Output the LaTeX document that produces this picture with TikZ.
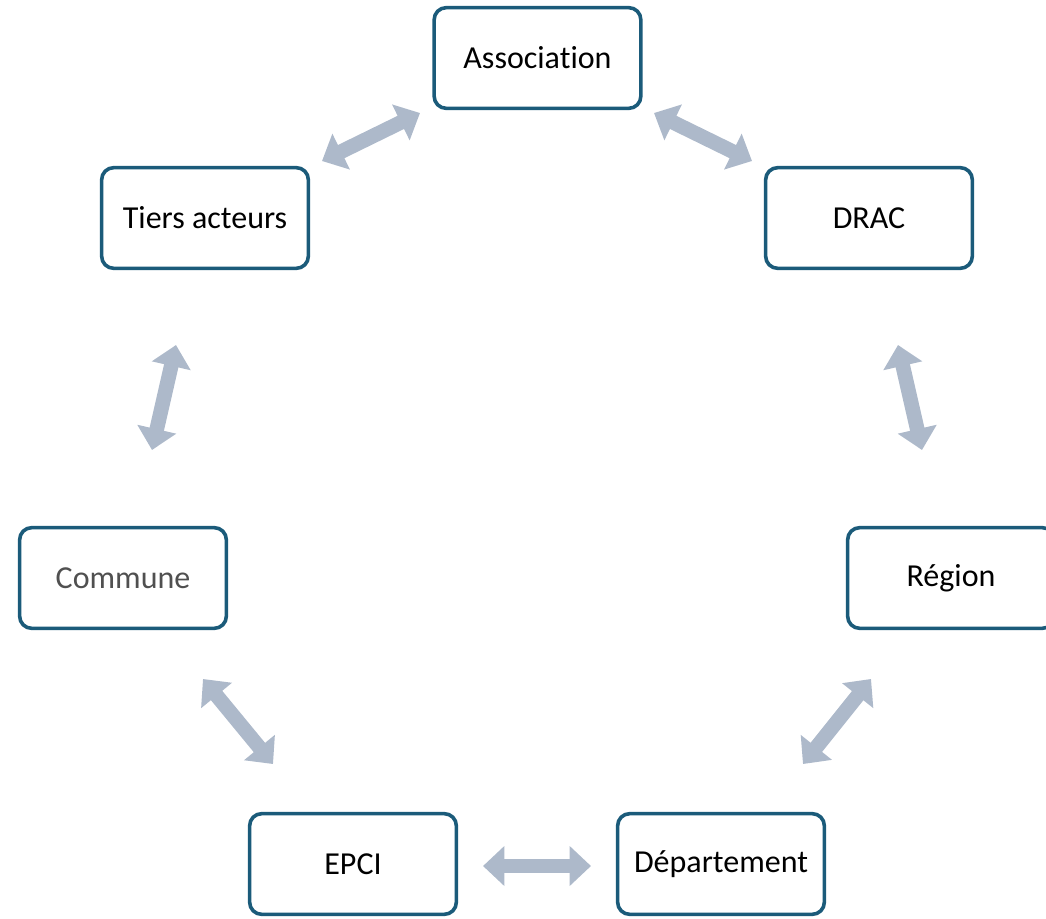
\documentclass[tikz,border=0pt]{standalone}
\usepackage{fontspec}
\setmainfont{Carlito}[Ligatures=CommonOff]
\usetikzlibrary{arrows.meta}
\definecolor{boxline}{HTML}{1B5B7A}
\definecolor{linkgray}{HTML}{ADB9CA}
\definecolor{textgray}{HTML}{505050}

\begin{document}
\begin{tikzpicture}[
            x = 0.75pt, y = -0.75pt, % one unit per pixel
            > = {Triangle[width=29pt, length=16pt]}, % arrow head style
            font = \fontsize{24}{29}\selectfont,
        ]

        \tikzstyle{box}=[
            draw = boxline,
            line width = 2.7pt,
            rounded corners = 9pt,
            fill = white,
            minimum width = 155pt,
            minimum height = 75.5pt
        ]
        \tikzstyle{link}=[
            <->,
            draw = linkgray,
            line width = 11pt
        ]

        \useasboundingbox (0,0) rectangle (1046,918);
        \clip (0,0) rectangle (1046,918);

        \node[box] (assoc) at (537.5,58) {Association};
        \node[box] (tiers) at (205,218) {Tiers acteurs};
        \node[box] (drac) at (869,218) {DRAC};
        \node[box,text=textgray] (commune) at (123,578) {Commune};
        \node[box] (region) at (951,578) {Région};
        \node[box] (epci) at (353,864) {EPCI};
        \node[box] (dept) at (721,864) {Département};

        % ends of the double arrows
        \coordinate (at1) at (420,113);
        \coordinate (at2) at (322,161);
        \coordinate (ad1) at (654,113);
        \coordinate (ad2) at (752,161);
        \coordinate (dr1) at (898,345);
        \coordinate (dr2) at (922,450);
        \coordinate (rd1) at (871,679);
        \coordinate (rd2) at (803,764);
        \coordinate (de1) at (591,866);
        \coordinate (de2) at (483,866);
        \coordinate (ec1) at (273,764);
        \coordinate (ec2) at (203,679);
        \coordinate (ct1) at (152,450);
        \coordinate (ct2) at (176,345);

        \draw[link] (at1) -- (at2);
        \draw[link] (ad1) -- (ad2);
        \draw[link] (dr1) -- (dr2);
        \draw[link] (rd1) -- (rd2);
        \draw[link] (de1) -- (de2);
        \draw[link] (ec1) -- (ec2);
        \draw[link] (ct1) -- (ct2);
    \end{tikzpicture}
\end{document}
